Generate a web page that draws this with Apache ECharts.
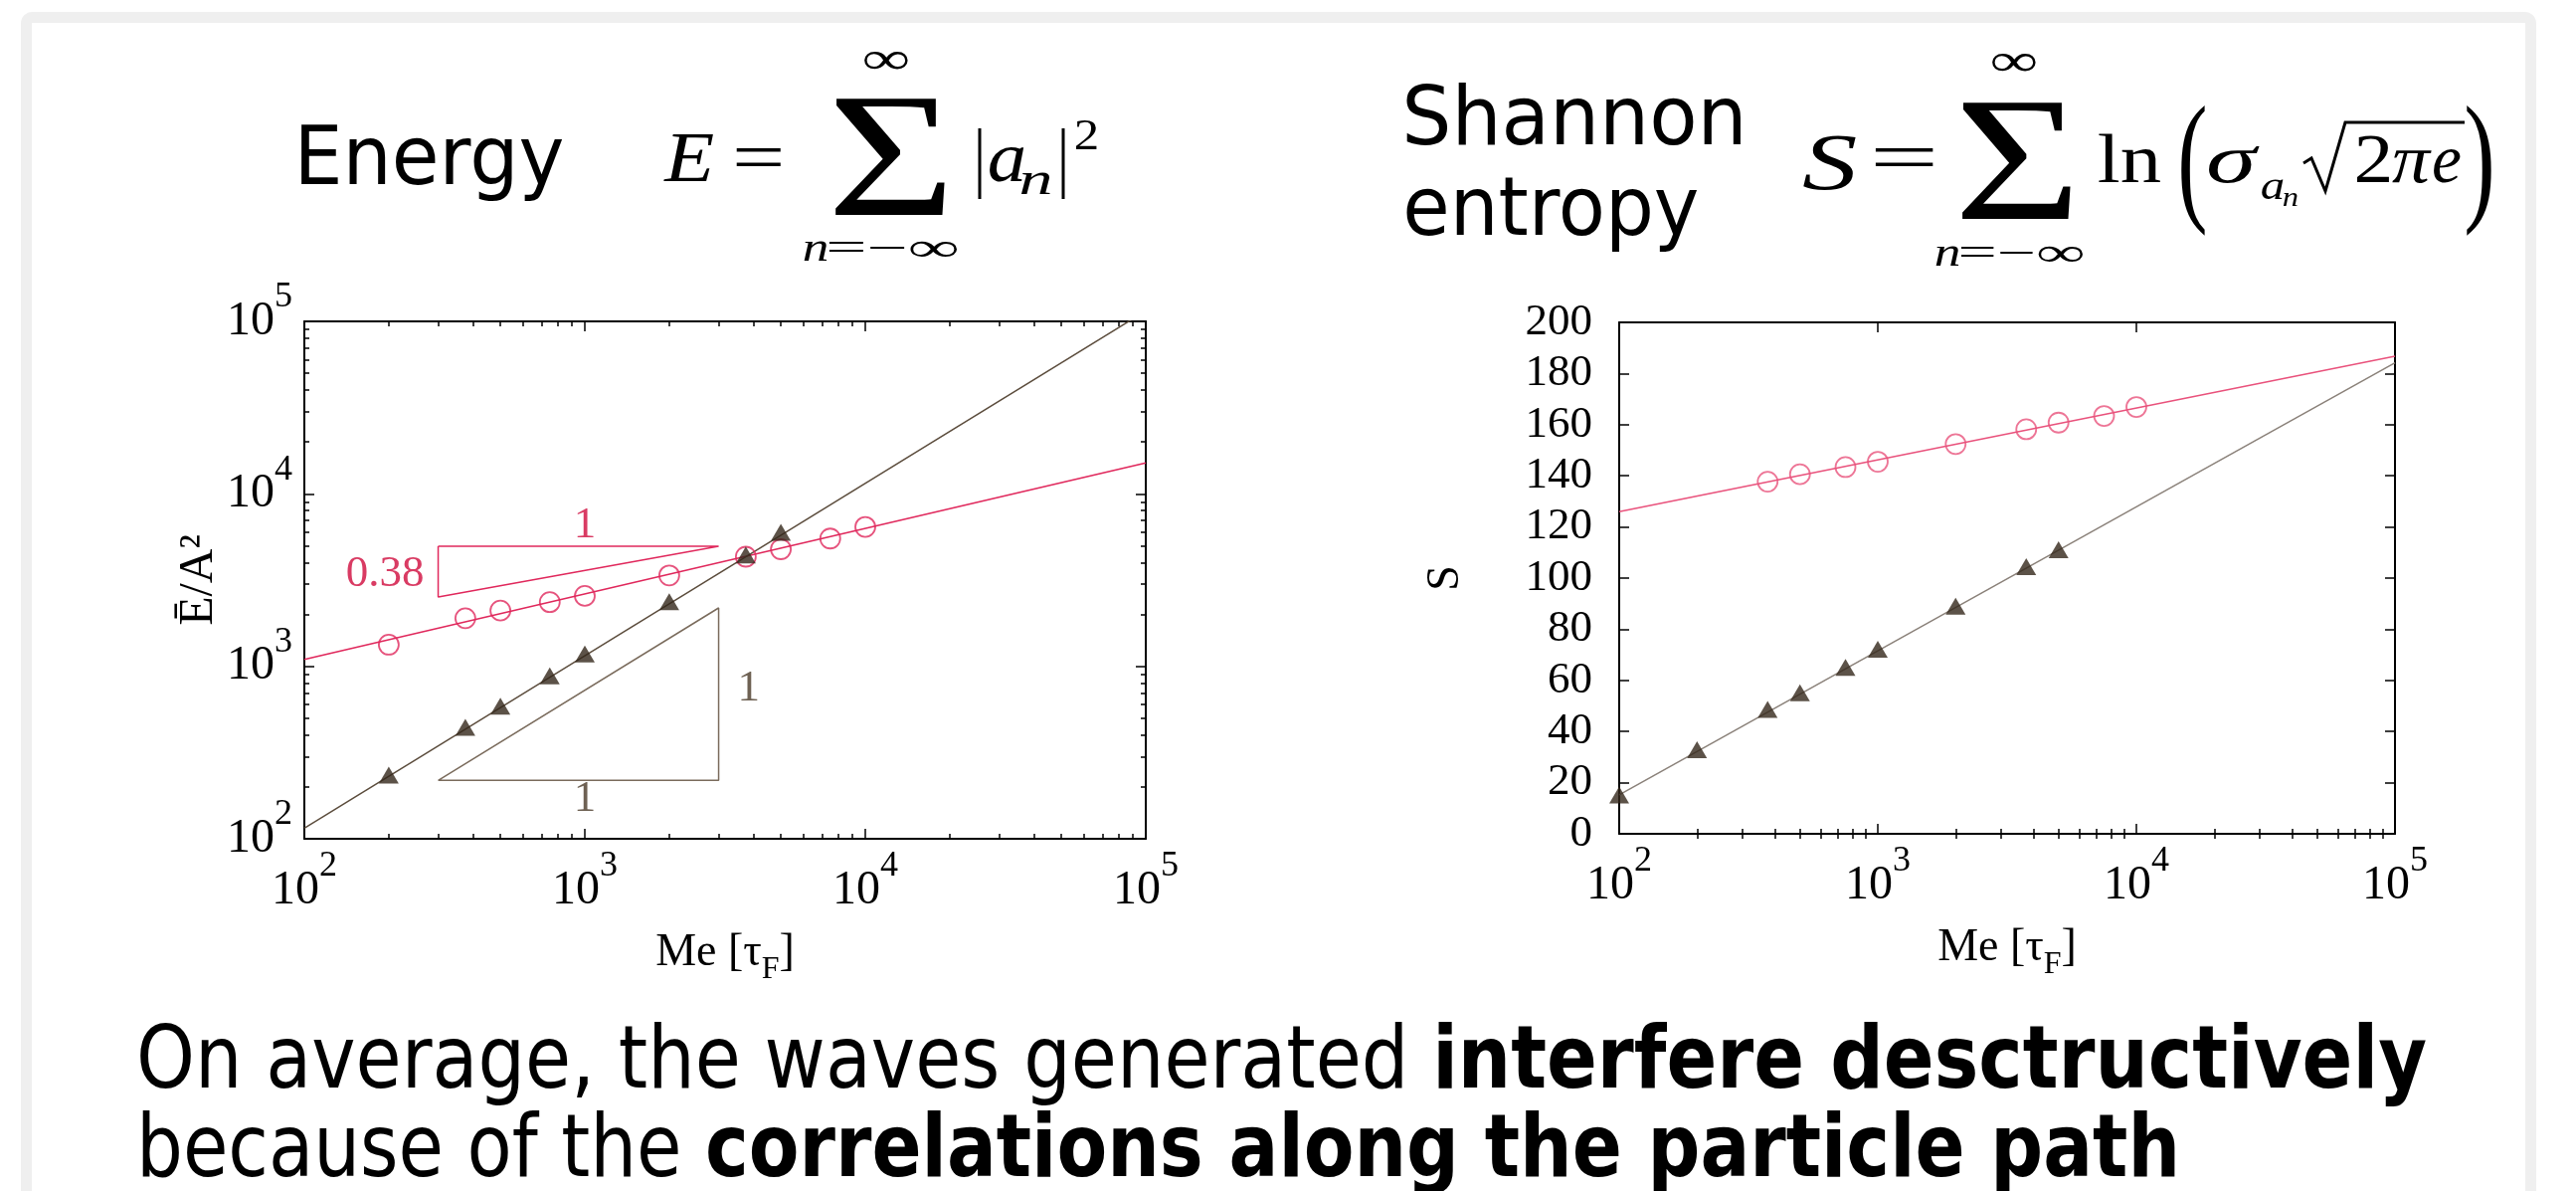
<!DOCTYPE html>
<html>
<head>
<meta charset="utf-8">
<script src="https://cdn.jsdelivr.net/npm/echarts@6/dist/echarts.min.js"></script>
<style>
html, body { margin: 0; padding: 0; background: #ffffff; }
#chart { width: 2590px; height: 1197px; }
</style>
</head>
<body>
<div id="chart"></div>
<script>
// ---- Energy panel (log-log) ----
const meEnergyRed = [200, 375, 500, 750, 1000, 2000, 3750, 5000, 7500, 10000];
const energyRed = [1334, 1900, 2105, 2355, 2560, 3365, 4320, 4775, 5505, 6430];
const meEnergyDark = [200, 375, 500, 750, 1000, 2000, 3750, 5000];
const energyDark = [234, 443, 588, 880, 1178, 2372, 4417, 5980];
const energyRedFit = [[100, 1096], [100000, 15100]];
const energyDarkFit = [[100, 115], [100000, 115000]];
// slope guides: 0.38 (red) and 1 (dark)
const slopeRed = [[300, 4970], [3000, 4970], [300, 2520], [300, 4970]];
const slopeDark = [[300, 218], [3000, 218], [3000, 2180], [300, 218]];
const slopeRedLabels = [{ name: '1', value: [1000, 6570] }, { name: '0.38', value: [194, 3430] }];
const slopeDarkLabels = [{ name: '1', value: [3840, 743] }, { name: '1', value: [1000, 170] }];

// ---- Shannon entropy panel (log-x) ----
const meEntropyRed = [375, 500, 750, 1000, 2000, 3750, 5000, 7500, 10000];
const entropyRed = [137.7, 140.6, 143.4, 145.5, 152.4, 158.2, 160.8, 163.4, 166.9];
const meEntropyDark = [100, 200, 375, 500, 750, 1000, 2000, 3750, 5000];
const entropyDark = [15.2, 32.9, 48.6, 55.2, 65.1, 72.2, 89.0, 104.5, 111.1];
const entropyRedFit = [[100, 126.0], [100000, 186.8]];
const entropyDarkFit = [[100, 15.2], [100000, 184.2]];

// axis ranges / ticks
const logMin = 100, logMax = 100000;
const entropyTicks = { min: 0, max: 200, interval: 20 };
// minor ticks of the decades, in log10 units (2..9 x 10^n)
const minorLog = [];
for (let d = 2; d < 5; d++) for (let k = 2; k <= 9; k++) minorLog.push(d + Math.log10(k));

const RED = '#e0285c';
const RED_TEXT = '#cf0a3c';
const RED_LIGHT = '#e9527c';
const DARK = '#33271a';
const DARK_FIT = '#5b4c3c';
const GUIDE = '#7a6b5c';
const GRAY_FIT = '#8a8179';
const SERIF = '"Liberation Serif", "Times New Roman", serif';
const SANS = '"DejaVu Sans", Verdana, sans-serif';

// ---------- text helpers ----------
const mctx = document.createElement('canvas').getContext('2d');
function ink(font, s) {
  mctx.font = font;
  mctx.textBaseline = 'alphabetic';
  const m = mctx.measureText(s);
  return { L: m.actualBoundingBoxLeft, R: m.actualBoundingBoxRight, W: m.width, A: m.actualBoundingBoxAscent };
}
function midOffset(font) {
  mctx.font = font;
  mctx.textBaseline = 'alphabetic';
  const a = mctx.measureText('H').actualBoundingBoxAscent;
  mctx.textBaseline = 'middle';
  const b = mctx.measureText('H').actualBoundingBoxAscent;
  return a - b;
}
function txtEl(s, font, x, baseline, sx, color) {
  return {
    type: 'text', x: x, y: baseline - midOffset(font), scaleX: sx, silent: true, z: 10,
    style: { text: s, font: font, fill: color || '#000',
      textAlign: 'left', textVerticalAlign: 'middle', align: 'left', verticalAlign: 'middle' }
  };
}
// place a glyph run so that its ink spans x0..x1 on the given baseline
function fit(s, font, x0, x1, baseline, color) {
  const m = ink(font, s);
  const sx = (x1 - x0) / (m.L + m.R);
  return txtEl(s, font, x0 + m.L * sx, baseline, sx, color);
}
// a line made of several runs (regular / bold), squeezed to span x0..x1
function line(parts, x0, x1, baseline) {
  const ws = parts.map(p => ink(p.font, p.s).W);
  const total = ws.reduce((a, b) => a + b, 0);
  const sx = (x1 - x0) / total;
  const out = [];
  let x = x0;
  parts.forEach((p, i) => { out.push(txtEl(p.s, p.font, x, baseline, sx)); x += ws[i] * sx; });
  return out;
}
const f = (style, size, fam) => `${style ? style + ' ' : ''}${size}px ${fam}`;

const graphics = [];
// slide frame
graphics.push({ type: 'rect', silent: true, z: 0,
  shape: { x: 26.5, y: 17.5, width: 2518, height: 1300, r: 6 },
  style: { fill: 'none', stroke: '#efefef', lineWidth: 11 } });

// headings
graphics.push(fit('Energy', f('', 82, SANS), 303, 566, 185));
graphics.push(fit('Shannon', f('', 82, SANS), 1414, 1750, 145));
graphics.push(fit('entropy', f('', 82, SANS), 1414, 1707, 236));

// E = sum |a_n|^2
graphics.push(fit('E', f('italic', 72, SERIF), 667, 717, 182));
graphics.push(fit('=', f('', 72, SERIF), 740, 786, 182));
graphics.push(fit('\u03A3', f('', 178, SERIF), 839, 950, 216));
graphics.push(fit('\u221E', f('', 46, SERIF), 868, 914, 74));
graphics.push(fit('n', f('italic', 40, SERIF), 808, 832, 262));
graphics.push(fit('=\u2212\u221E', f('', 40, SERIF), 834, 962, 262));
graphics.push({ type: 'line', silent: true, shape: { x1: 985, y1: 129, x2: 985, y2: 200 }, style: { stroke: '#000', lineWidth: 3 } });
graphics.push(fit('a', f('italic', 72, SERIF), 995, 1030, 182));
graphics.push(fit('n', f('italic', 46, SERIF), 1026, 1057, 195));
graphics.push({ type: 'line', silent: true, shape: { x1: 1069, y1: 129, x2: 1069, y2: 200 }, style: { stroke: '#000', lineWidth: 3 } });
graphics.push(fit('2', f('', 44, SERIF), 1081, 1103, 150));

// S = sum ln(sigma_{a_n} sqrt(2 pi e))
graphics.push(fit('S', f('italic', 80, SERIF), 1812, 1866, 190));
graphics.push(fit('=', f('', 72, SERIF), 1885, 1945, 182));
graphics.push(fit('\u03A3', f('', 178, SERIF), 1972, 2082, 220));
graphics.push(fit('\u221E', f('', 46, SERIF), 2002, 2048, 76));
graphics.push(fit('n', f('italic', 40, SERIF), 1946, 1970, 267));
graphics.push(fit('=\u2212\u221E', f('', 40, SERIF), 1972, 2094, 267));
graphics.push(fit('ln', f('', 70, SERIF), 2110, 2172, 183));
graphics.push(fit('(', f('', 144, SERIF), 2193, 2217, 206));
graphics.push(fit('\u03C3', f('italic', 70, SERIF), 2221, 2272, 183));
graphics.push(fit('a', f('italic', 40, SERIF), 2274, 2296, 200));
graphics.push(fit('n', f('italic', 28, SERIF), 2296, 2310, 207));
graphics.push({ type: 'polyline', silent: true,
  shape: { points: [[2316, 164], [2324, 159], [2338, 192], [2358, 123], [2478, 123]] },
  style: { stroke: '#000', lineWidth: 3, fill: 'none' } });
graphics.push(fit('2', f('', 70, SERIF), 2370, 2403, 183));
graphics.push(fit('\u03C0', f('italic', 70, SERIF), 2405, 2445, 183));
graphics.push(fit('e', f('italic', 70, SERIF), 2447, 2474, 183));
graphics.push(fit(')', f('', 144, SERIF), 2480, 2505, 206));

// closing sentence
line([{ s: 'On average, the waves generated ', font: f('', 88, SANS) },
      { s: 'interfere desctructively', font: f('bold', 88, SANS) }], 137, 2440, 1093).forEach(e => graphics.push(e));
line([{ s: 'because of the ', font: f('', 88, SANS) },
      { s: 'correlations along the particle path', font: f('bold', 88, SANS) }], 137, 2192, 1182).forEach(e => graphics.push(e));

// ---------- axes ----------
const TICK_FONT = 45;
const POW_FONT = 48;
const SUP_FONT = 36;
const powRich = {
  b: { fontFamily: SERIF, fontSize: POW_FONT, lineHeight: POW_FONT, color: '#000', verticalAlign: 'bottom' },
  s: { fontFamily: SERIF, fontSize: SUP_FONT, lineHeight: SUP_FONT, color: '#000', verticalAlign: 'bottom', padding: [0, 0, 30, 0] }
};
const powLabel = v => '{b|10}{s|' + Math.round(Math.log10(v)) + '}';
const frameLine = { show: true, onZero: false, lineStyle: { color: '#000', width: 2 } };
const majorTick = { show: true, inside: true, length: 10, lineStyle: { color: '#000', width: 1.5 } };
const noSplit = { show: false };
const nameRich = {
  a: { fontFamily: SERIF, fontSize: 46, lineHeight: 48, color: '#000', verticalAlign: 'top' },
  s: { fontFamily: SERIF, fontSize: 32, lineHeight: 32, color: '#000', verticalAlign: 'top', padding: [24, 0, 0, 0] }
};

function logAxis(grid, pos, withLabels, extra) {
  return Object.assign({
    type: 'log', logBase: 10, gridIndex: grid, position: pos, min: logMin, max: logMax,
    axisLine: frameLine, axisTick: majorTick, splitLine: noSplit,
    axisLabel: withLabels ? { show: true, formatter: powLabel, rich: powRich, margin: pos === 'left' ? 12 : 28 } : { show: false }
  }, extra || {});
}
function minorAxis(grid, pos) {
  return {
    type: 'value', gridIndex: grid, position: pos, min: 2, max: 5,
    axisLine: { show: false }, splitLine: noSplit, axisLabel: { show: false },
    axisTick: { show: true, inside: true, length: 5, customValues: minorLog, lineStyle: { color: '#000', width: 1.5 } }
  };
}
const meName = {
  name: '{a|Me [\u03C4}{s|F}{a|]}', nameLocation: 'middle', nameGap: 92,
  nameTextStyle: { rich: nameRich }
};

const xAxis = [
  logAxis(0, 'bottom', true, meName),
  logAxis(0, 'top', false),
  minorAxis(0, 'bottom'),
  minorAxis(0, 'top'),
  logAxis(1, 'bottom', true, meName),
  logAxis(1, 'top', false),
  minorAxis(1, 'bottom'),
  minorAxis(1, 'top')
];
const yAxis = [
  logAxis(0, 'left', true, {
    name: '\u0112/A\u00B2', nameLocation: 'middle', nameRotate: 90, nameGap: 74,
    nameTextStyle: { fontFamily: SERIF, fontSize: 48, color: '#000' }
  }),
  logAxis(0, 'right', false),
  minorAxis(0, 'left'),
  minorAxis(0, 'right'),
  {
    type: 'value', gridIndex: 1, position: 'left', min: entropyTicks.min, max: entropyTicks.max, interval: entropyTicks.interval,
    axisLine: frameLine, axisTick: majorTick, splitLine: noSplit,
    axisLabel: { fontFamily: SERIF, fontSize: TICK_FONT, color: '#000', margin: 27, interval: 0 },
    name: 'S', nameLocation: 'middle', nameRotate: 90, nameGap: 151,
    nameTextStyle: { fontFamily: SERIF, fontSize: 46, color: '#000' }
  },
  {
    type: 'value', gridIndex: 1, position: 'right', min: entropyTicks.min, max: entropyTicks.max, interval: entropyTicks.interval,
    axisLine: frameLine, axisTick: majorTick, splitLine: noSplit, axisLabel: { show: false }
  }
];

const pairs = (xs, ys) => xs.map((x, i) => [x, ys[i]]);
const fitLine = (data, color, xi, yi) => ({
  type: 'line', xAxisIndex: xi, yAxisIndex: yi, data: data, symbol: 'none', silent: true, z: 2,
  lineStyle: { color: color, width: 1.5 }, clip: true
});
const circles = (data, color, xi, yi) => ({
  type: 'scatter', xAxisIndex: xi, yAxisIndex: yi, data: data, symbol: 'circle', symbolSize: 20, z: 4,
  itemStyle: { color: 'rgba(0,0,0,0)', borderColor: color, borderWidth: 1.8 }, silent: true
});
const triangles = (data, xi, yi) => ({
  type: 'scatter', xAxisIndex: xi, yAxisIndex: yi, data: data, symbol: 'triangle', symbolSize: [20, 17], z: 5,
  itemStyle: { color: DARK }, silent: true
});
const guideLabels = (data, color) => ({
  type: 'scatter', xAxisIndex: 0, yAxisIndex: 0, data: data, symbolSize: 1, z: 6, silent: true,
  itemStyle: { color: 'rgba(0,0,0,0)' },
  label: { show: true, position: 'inside', formatter: '{b}', fontFamily: SERIF, fontSize: 45, color: color }
});

const option = {
  backgroundColor: '#ffffff',
  animation: false,
  grid: [
    { left: 306, top: 323, width: 846, height: 520, outerBoundsMode: 'none', containLabel: false },
    { left: 1628, top: 324, width: 780, height: 514, outerBoundsMode: 'none', containLabel: false }
  ],
  xAxis: xAxis,
  yAxis: yAxis,
  series: [
    fitLine(energyRedFit, RED, 0, 0),
    fitLine(energyDarkFit, DARK_FIT, 0, 0),
    fitLine(slopeRed, RED, 0, 0),
    fitLine(slopeDark, GUIDE, 0, 0),
    circles(pairs(meEnergyRed, energyRed), RED, 0, 0),
    triangles(pairs(meEnergyDark, energyDark), 0, 0),
    guideLabels(slopeRedLabels, RED_TEXT),
    guideLabels(slopeDarkLabels, '#4a3a28'),
    fitLine(entropyRedFit, RED_LIGHT, 4, 4),
    fitLine(entropyDarkFit, GRAY_FIT, 4, 4),
    circles(pairs(meEntropyRed, entropyRed), RED_LIGHT, 4, 4),
    triangles(pairs(meEntropyDark, entropyDark), 4, 4)
  ],
  graphic: { elements: graphics }
};

const chart = echarts.init(document.getElementById('chart'), null, { renderer: 'canvas' });
chart.setOption(option);
</script>
</body>
</html>
